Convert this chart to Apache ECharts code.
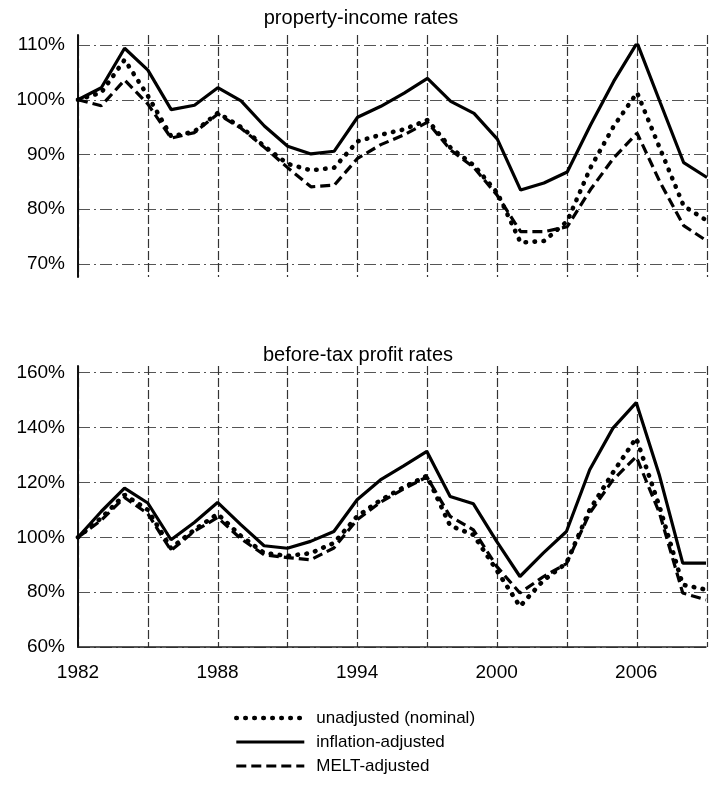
<!DOCTYPE html>
<html>
<head>
<meta charset="utf-8">
<script src="https://cdn.jsdelivr.net/npm/echarts@6/dist/echarts.min.js"></script>
<style>
html,body{margin:0;padding:0;background:#fff;}
#chart{width:709px;height:790px;}
</style>
</head>
<body>
<div id="chart"></div>
<script>
// ---- data ----
const years = [1982,1983,1984,1985,1986,1987,1988,1989,1990,1991,1992,1993,1994,1995,1996,1997,1998,1999,2000,2001,2002,2003,2004,2005,2006,2007,2008,2009];

const seriesNames = ['unadjusted (nominal)', 'inflation-adjusted', 'MELT-adjusted'];
const panelTitles = ['property-income rates', 'before-tax profit rates'];

// property-income rates (% of 1982)
const propUnadjusted = [100,101.3,107.3,100.7,93.3,94.2,97.6,95.0,91.5,88.3,87.1,87.6,92.4,93.6,94.6,96.3,91.2,88.0,83.0,73.9,74.2,77.8,87.6,95.2,101.3,90.9,80.6,77.9];
const propInflation  = [100,102.2,109.4,105.4,98.2,99.0,102.2,99.8,95.2,91.5,90.1,90.6,96.8,98.8,101.2,103.9,99.7,97.5,92.8,83.5,84.8,86.8,95.4,103.4,110.4,99.4,88.5,85.8];
const propMELT       = [100,98.9,103.6,99.2,93.0,94.0,97.4,94.8,91.3,87.6,84.1,84.4,89.3,91.8,93.6,95.9,90.8,87.6,82.5,75.9,75.9,76.8,83.6,89.4,93.9,84.8,77.0,74.2];

// before-tax profit rates (% of 1982)
const profUnadjusted = [100,107.0,115.5,110.0,96.0,102.7,108.5,100.5,94.3,93.2,94.2,97.9,107.6,113.5,118.2,122.4,104.2,100.9,88.0,74.8,84.2,90.6,110.0,123.6,136.2,111.2,82.7,80.9];
const profInflation  = [100,109.4,117.9,112.5,99.1,105.4,112.7,104.6,96.9,96.0,98.5,102.1,113.7,120.9,126.0,131.3,114.9,112.2,98.5,85.7,94.2,102.1,124.6,139.8,149.1,122.5,90.6,90.6];
const profMELT       = [100,106.2,114.5,108.6,95.2,102.2,107.2,99.5,93.6,92.6,91.8,96.1,106.4,112.8,117.6,122.0,107.6,102.7,89.4,79.7,85.6,90.4,108.8,120.9,129.4,108.8,79.7,77.2];

// tick settings
const xMin = 1982, xMax = 2009, xGridStep = 3, xLabelStep = 6;
const topY = {min: 70, max: 110, interval: 10};
const botY = {min: 60, max: 160, interval: 20};

// ---- chart ----
const FONT = '"Liberation Sans", Arial, Helvetica, sans-serif';
const pair = arr => arr.map((v, i) => [years[i], v]);

const styles = [
  {type: [0.5, 8.5], width: 4.6, cap: 'round'}, // dotted
  {type: 'solid', width: 3.2},                  // solid
  {type: [10, 5], width: 3.2}                   // dashed
];

const L = 78, R = 2;
const grids = [
  {left: L, right: R, top: 45, height: 219},     // top data
  {left: L, right: R, top: 372.7, height: 274.3},// bottom data
  {left: L, right: R, top: 35, height: 242},     // top vertical lines
  {left: L, right: R, top: 366, height: 281}     // bottom vertical lines
];

const hSplit = {show: true, lineStyle: {color: '#555', width: 1, type: [12, 4, 2, 4]}};
const vSplit = {show: true, lineStyle: {color: '#333', width: 1.2, type: [9, 3]}};

function dataX(gi, showLabels) {
  return {
    type: 'value', gridIndex: gi, min: xMin, max: xMax, interval: xGridStep,
    splitLine: {show: false},
    axisTick: {show: false},
    axisLine: {show: showLabels, onZero: false, lineStyle: {color: '#222', width: 1.5}},
    axisLabel: {
      show: showLabels, margin: 16, color: '#000', fontSize: 19, fontFamily: FONT,
      formatter: v => ((v - xMin) % xLabelStep === 0 ? String(v) : '')
    }
  };
}
function dataY(gi, cfg) {
  return {
    type: 'value', gridIndex: gi, min: cfg.min, max: cfg.max, interval: cfg.interval,
    splitLine: hSplit,
    axisLine: {show: false},
    axisTick: {show: false},
    axisLabel: {color: '#000', fontSize: 19, fontFamily: FONT, margin: 13, formatter: v => v + '%'}
  };
}
function bgX(gi) {
  return {
    type: 'value', gridIndex: gi, min: xMin, max: xMax, interval: xGridStep,
    splitLine: vSplit, axisLine: {show: false}, axisTick: {show: false}, axisLabel: {show: false}
  };
}
function bgY(gi) {
  return {
    type: 'value', gridIndex: gi, min: 0, max: 1,
    splitLine: {show: false}, axisTick: {show: false}, axisLabel: {show: false},
    axisLine: {show: true, lineStyle: {color: '#111', width: 2}}
  };
}

function mkSeries(name, arr, si, axisIdx) {
  return {
    name: name, type: 'line', data: pair(arr),
    xAxisIndex: axisIdx, yAxisIndex: axisIdx,
    symbol: 'none', showSymbol: false, smooth: false, animation: false,
    itemStyle: {color: '#000'},
    lineStyle: Object.assign({color: '#000'}, styles[si]),
    z: 5
  };
}

const option = {
  backgroundColor: '#fff',
  animation: false,
  textStyle: {fontFamily: FONT},
  grid: grids,
  xAxis: [dataX(0, false), dataX(1, true), bgX(2), bgX(3)],
  yAxis: [dataY(0, topY), dataY(1, botY), bgY(2), bgY(3)],
  legend: {
    data: seriesNames.map((n, i) => ({
      name: n,
      itemStyle: {opacity: 0},
      lineStyle: Object.assign({color: '#000'}, styles[i])
    })),
    orient: 'vertical',
    left: 229, top: 703,
    itemWidth: 68, itemHeight: 10, itemGap: 4,
    itemStyle: {opacity: 0},
    textStyle: {color: '#000', fontSize: 17, fontFamily: FONT, lineHeight: 20, padding: [0, 0, 0, 7]},
    selectedMode: false
  },
  graphic: [
    {type: 'text', x: 361, y: 18, style: {text: panelTitles[0], fill: '#000', font: '20px ' + FONT, textAlign: 'center', textVerticalAlign: 'middle'}},
    {type: 'text', x: 358, y: 355, style: {text: panelTitles[1], fill: '#000', font: '20px ' + FONT, textAlign: 'center', textVerticalAlign: 'middle'}}
  ],
  series: [
    mkSeries(seriesNames[0], propUnadjusted, 0, 0),
    mkSeries(seriesNames[1], propInflation, 1, 0),
    mkSeries(seriesNames[2], propMELT, 2, 0),
    mkSeries(seriesNames[0], profUnadjusted, 0, 1),
    mkSeries(seriesNames[1], profInflation, 1, 1),
    mkSeries(seriesNames[2], profMELT, 2, 1)
  ]
};

const chart = echarts.init(document.getElementById('chart'), null, {renderer: 'canvas'});
chart.setOption(option);
</script>
</body>
</html>
